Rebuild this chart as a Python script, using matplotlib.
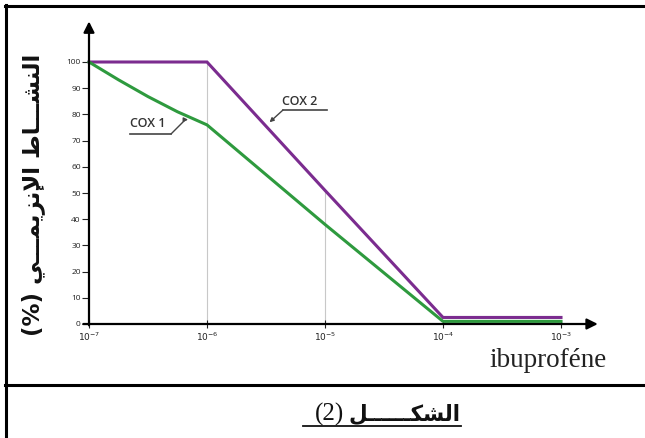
import numpy as np
import matplotlib
matplotlib.use("Agg")
import matplotlib.pyplot as plt
from matplotlib.lines import Line2D

# data
conc_cox1 = [1e-7, 10 ** -6.75, 10 ** -6.5, 10 ** -6.25, 1e-6, 1e-5, 1e-4, 1e-3]
activity_cox1 = [100, 93.2, 86.8, 81.0, 76, 38, 1, 1]
conc_cox2 = [1e-7, 1e-6, 1e-5, 1e-4, 1e-3]
activity_cox2 = [100, 100, 51, 2.5, 2.5]
grid_conc = [1e-6, 1e-5]
x_ticks = [1e-7, 1e-6, 1e-5, 1e-4, 1e-3]
x_ticklabels = ["$10^{-7}$", "$10^{-6}$", "$10^{-5}$", "$10^{-4}$", "$10^{-3}$"]
y_ticks = list(range(0, 101, 10))

# arabic text written as presentation forms in visual order (no shaping engine)
ylabel_ar = ("(%) "
             "\uFEF2\u0640\u0640\u0640\uFEE4\uFEF3\uFEB0\uFEE7\uFEF9\uFE8D "
             "\uFEC1\uFE8E\u0640\u0640\u0640\uFEB8\uFEE8\uFEDF\uFE8D")
caption_ar = "\uFEDE\u0640\u0640\u0640\u0640\u0640\u0640\uFEDC\uFEB8\uFEDF\uFE8D"
caption_num = "(2)"
xlabel = "ibuprof\u00e9ne"

PURPLE = "#7b2c8f"
GREEN = "#2e9a3e"

W, H = 645, 438
fig = plt.figure(figsize=(W / 100, H / 100), dpi=100)


def fx(px):
    return px / W


def fy(py):
    return 1 - py / H


# axes box: 1e-7..1e-3 -> px 89..561, 0..100 -> px 324..62
ax = fig.add_axes([fx(89), fy(324), fx(561) - fx(89), fy(62) - fy(324)])
ax.set_xscale("log")
ax.set_xlim(1e-7, 1e-3)
ax.set_ylim(0, 100)
for s in ax.spines.values():
    s.set_visible(False)

# light vertical guides up to the COX2 curve
for c in grid_conc:
    top = np.interp(np.log10(c), np.log10(conc_cox2), activity_cox2)
    ax.vlines(c, 0, top, color="#c8c8c8", lw=0.8, zorder=1)

ax.plot(conc_cox2, activity_cox2, color=PURPLE, lw=2.2, zorder=3,
        solid_joinstyle="miter", clip_on=False)
ax.plot(conc_cox1, activity_cox1, color=GREEN, lw=2.2, zorder=4,
        solid_joinstyle="round", clip_on=False)

# axes with arrows
ax.annotate("", xy=(1.078, 0), xytext=(-0.012, 0), xycoords="axes fraction",
            arrowprops=dict(arrowstyle="-|>", color="black", lw=1.6,
                            mutation_scale=16, shrinkA=0, shrinkB=0),
            annotation_clip=False, zorder=5)
ax.annotate("", xy=(0, 1.155), xytext=(0, -0.005), xycoords="axes fraction",
            arrowprops=dict(arrowstyle="-|>", color="black", lw=1.6,
                            mutation_scale=16, shrinkA=0, shrinkB=0),
            annotation_clip=False, zorder=5)

ax.set_xticks(x_ticks)
ax.set_xticklabels(x_ticklabels)
ax.minorticks_off()
ax.set_yticks(y_ticks)
ax.tick_params(axis="x", direction="inout", length=6, width=0.8,
               labelsize=6.5, pad=2, colors="#222222")
ax.tick_params(axis="y", direction="out", length=5, width=0.8,
               labelsize=6, pad=1, colors="#222222")
for lab in ax.get_yticklabels() + ax.get_xticklabels():
    lab.set_family("Open Sans")

# curve labels with underline and leader
lab_kw = dict(fontsize=9, family="Open Sans", fontweight="semibold",
              color="#333333")
fig.text(fx(130), fy(127), "COX 1", **lab_kw)
fig.add_artist(Line2D([fx(130), fx(171)], [fy(134), fy(134)],
                      color="#444444", lw=1.2))
ax.annotate("", xy=(10 ** -6.16, 78), xycoords="data",
            xytext=(fx(171), fy(134)), textcoords="figure fraction",
            arrowprops=dict(arrowstyle="-|>", color="#444444", lw=1.0,
                            mutation_scale=6, shrinkA=0, shrinkB=0,
                            connectionstyle="angle,angleA=45,angleB=0,rad=0"))

fig.text(fx(282), fy(105), "COX 2", **lab_kw)
fig.add_artist(Line2D([fx(283), fx(327)], [fy(110), fy(110)],
                      color="#444444", lw=1.2))
ax.annotate("", xy=(10 ** -5.47, 77), xycoords="data",
            xytext=(fx(283), fy(110)), textcoords="figure fraction",
            arrowprops=dict(arrowstyle="-|>", color="#444444", lw=1.0,
                            mutation_scale=6, shrinkA=0, shrinkB=0))

fig.text(fx(607), fy(367), xlabel, family="Liberation Serif", fontsize=19.5,
         ha="right", va="baseline", color="#222222")

fig.text(fx(33), fy(195), ylabel_ar, family="DejaVu Sans", fontweight="bold",
         fontsize=16.5, rotation=90, ha="center", va="center", color="#111111")

# frame lines
fig.add_artist(Line2D([fx(6), fx(6)], [0, fy(5)], color="black", lw=2.2))
fig.add_artist(Line2D([fx(5), 1], [fy(6), fy(6)], color="black", lw=2.2))
fig.add_artist(Line2D([fx(5), 1], [fy(385), fy(385)], color="black", lw=2.2))

# caption
fig.text(fx(344), fy(421), caption_num, family="Liberation Serif", fontsize=18,
         ha="right", va="baseline", color="#111111")
fig.text(fx(348), fy(421), caption_ar, family="DejaVu Sans", fontweight="bold",
         fontsize=15.5, ha="left", va="baseline", color="#111111")
fig.add_artist(Line2D([fx(303), fx(461)], [fy(426), fy(426)],
                      color="#111111", lw=1.3))

fig.savefig("out.png", dpi=100)
